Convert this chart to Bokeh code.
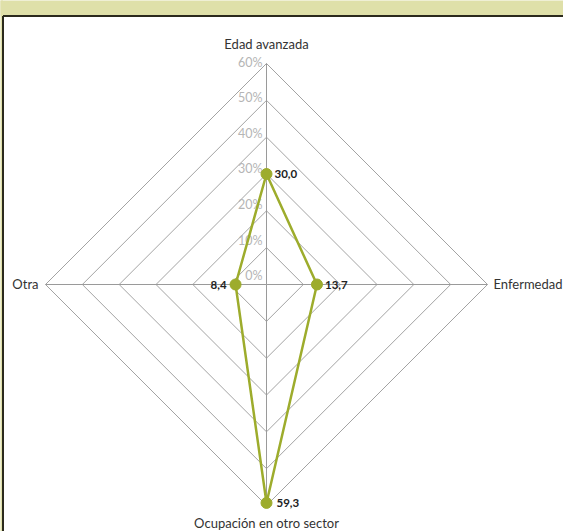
import math
from bokeh.plotting import figure
from bokeh.models import Range1d, ColumnDataSource
from bokeh.core.properties import value
from bokeh.embed import file_html
from bokeh.resources import INLINE

# ---- data ----
categories = ["Edad avanzada", "Enfermedad", "Ocupación en otro sector", "Otra"]
values = [30.0, 13.7, 59.3, 8.4]
value_labels = ["30,0", "13,7", "59,3", "8,4"]
ring_levels = [0, 10, 20, 30, 40, 50, 60]
ring_labels = ["0%", "10%", "20%", "30%", "40%", "50%", "60%"]

# ---- layout (pixels of the picture) ----
W, H = 563, 531
CX, CY = 266.0, 284.0      # chart centre in pixels
R60 = 221.0                # pixel radius of the 60% ring
S = R60 / 60.0             # pixels per unit

def px2x(sx):
    return (sx - CX) / S

def px2y(sy):
    return (CY - sy) / S

x0, x1 = px2x(0), px2x(W)
y1, y0 = px2y(0), px2y(H)

p = figure(width=W, height=H, x_range=Range1d(x0, x1), y_range=Range1d(y0, y1),
           output_backend="svg", toolbar_location=None, min_border=0,
           outline_line_color=None, background_fill_color="white")
p.axis.visible = False
p.grid.visible = False

# header band and border
p.quad(left=x0 - 5, right=x1 + 5, top=y1 + 5, bottom=px2y(15), fill_color="#dfe0a9", line_color=None)
p.quad(left=x0 - 5, right=px2x(2.5), top=y1 + 5, bottom=y0 - 5, fill_color="#dfe0a9", line_color=None)
p.line([px2x(2.5), x1 + 5], [px2y(15.5), px2y(15.5)], line_color="#2b2a1c", line_width=2)
p.line([px2x(2.5), px2x(2.5)], [px2y(15.5), y0 - 5], line_color="#2b2a1c", line_width=2)

angles = [math.pi / 2, 0.0, -math.pi / 2, math.pi]  # clockwise from top
font = value("Lato")

# rings
for lv in ring_levels[1:]:
    xs = [lv * math.cos(a) for a in angles] + [lv * math.cos(angles[0])]
    ys = [lv * math.sin(a) for a in angles] + [lv * math.sin(angles[0])]
    p.line(xs, ys, line_color="#a3a3a3", line_width=1)

# spokes
top = ring_levels[-1]
for a in angles:
    p.line([0, top * math.cos(a)], [0, top * math.sin(a)], line_color="#9a9a9a", line_width=1)

# ring tick labels
tick_y = [2.44 + 0.964 * lv for lv in ring_levels]
p.text(x=[0] * len(ring_levels), y=tick_y, text=ring_labels, text_align="right",
       text_baseline="middle", x_offset=-4, text_color="#b5b5b5",
       text_font=font, text_font_size="12.5px")

# category labels
cx = [top * math.cos(a) for a in angles]
cy = [top * math.sin(a) for a in angles]
cat_src = ColumnDataSource(dict(x=cx, y=cy, t=categories,
                                align=["center", "left", "center", "right"],
                                xo=[0, 6, 0, -7], yo=[-20, -1, 17, -1]))
p.text(x="x", y="y", text="t", source=cat_src, text_align="align", text_baseline="middle",
       x_offset="xo", y_offset="yo", text_color="#333333", text_font=font, text_font_size="13px")

# series
vx = [v * math.cos(a) for v, a in zip(values, angles)]
vy = [v * math.sin(a) for v, a in zip(values, angles)]
green = "#9dac2c"
p.line(vx + [vx[0]], vy + [vy[0]], line_color=green, line_width=2.5)
p.scatter(vx, vy, size=11, fill_color=green, line_color=green)

val_src = ColumnDataSource(dict(x=vx, y=vy, t=value_labels,
                                align=["left", "left", "left", "right"],
                                xo=[8, 8, 10, -9]))
p.text(x="x", y="y", text="t", source=val_src, text_align="align", text_baseline="middle",
       x_offset="xo", text_color="#222222", text_font=font, text_font_size="11.5px",
       text_font_style="bold")

open("out.html", "w").write(file_html(p, INLINE))
